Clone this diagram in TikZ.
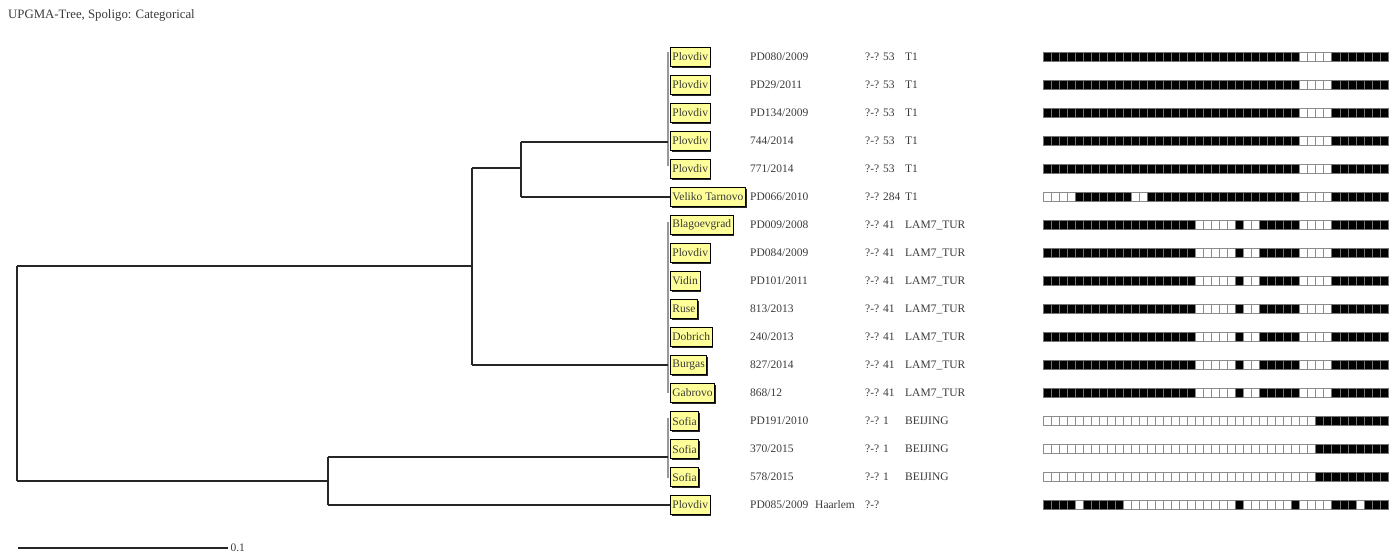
\documentclass[tikz,border=0pt]{standalone}
\usepackage{fontspec}
\setmainfont{Liberation Serif}
\usetikzlibrary{shadows}
\definecolor{cityfill}{HTML}{FFFF99}
\definecolor{txt}{HTML}{3A3A3A}
\def\patT{1/32/1,33/36/0,37/43/1}
\def\patU{1/4/0,5/11/1,12/13/0,14/32/1,33/36/0,37/43/1}
\def\patL{1/19/1,20/24/0,25/25/1,26/27/0,28/32/1,33/36/0,37/43/1}
\def\patB{1/34/0,35/43/1}
\def\patH{1/4/1,5/5/0,6/10/1,11/24/0,25/25/1,26/31/0,32/32/1,33/36/0,37/39/1,40/40/0,41/43/1}
\begin{document}
\begin{tikzpicture}[x=1pt,y=-1pt,
  every node/.style={font=\fontsize{11.5}{13}\selectfont, text=txt, inner sep=0pt},
  city/.style={draw=black, fill=cityfill, line width=0.7pt, inner xsep=2pt, minimum height=19pt, anchor=west,
    drop shadow={shadow xshift=1.3pt, shadow yshift=-1.3pt, fill=black!85, opacity=1}},
  lbl/.style={anchor=west},
  branch/.style={line width=1.2pt, draw=black!85},
  groupbar/.style={line width=1.6pt, draw=black!40},
  spo1/.style={fill=black, draw=black!55, line width=0.5pt},
  spo0/.style={fill=white, draw=black!45, line width=0.5pt}]
\useasboundingbox (0,0) rectangle (1399,555);

\node[lbl, font=\fontsize{12.8}{14}\selectfont] (title) at (8,15) {UPGMA-Tree, Spoligo: Categorical};

% group bars
\draw[groupbar] (668,52) -- (668,166);
\draw[groupbar] (668,222) -- (668,393);
\draw[groupbar] (668,418) -- (668,478);

% rows
\foreach \i/\city/\id/\sit/\typ/\pat in {
  0/Plovdiv/PD080\slash 2009/53/T1/T,
  1/Plovdiv/PD29\slash 2011/53/T1/T,
  2/Plovdiv/PD134\slash 2009/53/T1/T,
  3/Plovdiv/744\slash 2014/53/T1/T,
  4/Plovdiv/771\slash 2014/53/T1/T,
  5/Veliko Tarnovo/PD066\slash 2010/284/T1/U,
  6/Blagoevgrad/PD009\slash 2008/41/LAM7\_TUR/L,
  7/Plovdiv/PD084\slash 2009/41/LAM7\_TUR/L,
  8/Vidin/PD101\slash 2011/41/LAM7\_TUR/L,
  9/Ruse/813\slash 2013/41/LAM7\_TUR/L,
  10/Dobrich/240\slash 2013/41/LAM7\_TUR/L,
  11/Burgas/827\slash 2014/41/LAM7\_TUR/L,
  12/Gabrovo/868\slash 12/41/LAM7\_TUR/L,
  13/Sofia/PD191\slash 2010/1/BEIJING/B,
  14/Sofia/370\slash 2015/1/BEIJING/B,
  15/Sofia/578\slash 2015/1/BEIJING/B}{
  \pgfmathsetmacro\y{57+28*\i}
  \node[city] (c\i) at (670,\y) {\city};
  \node[lbl] (id\i) at (750,\y) {\id};
  \node[lbl] (q\i) at (865,\y) {?-?};
  \node[lbl] (s\i) at (883,\y) {\sit};
  \node[lbl] (t\i) at (905,\y) {\typ};
  \edef\curpat{\csname pat\pat\endcsname}
  \foreach \a/\b/\v in \curpat {
    \foreach \k in {\a,...,\b} {
      \draw[spo\v] ({1043+(\k-1)*8.02},\y-4.5) rectangle ++(8.02,9);
    }
  }
}
% last row
\node[city] (c16) at (670,505) {Plovdiv};
\node[lbl] (id16) at (750,505) {PD085/2009};
\node[lbl] (h16) at (815,505) {Haarlem};
\node[lbl] (q16) at (865,505) {?-?};
\foreach \a/\b/\v in \patH {
  \foreach \k in {\a,...,\b} {
    \draw[spo\v] ({1043+(\k-1)*8.02},500.5) rectangle ++(8.02,9);
  }
}

% tree
\coordinate (r1) at (17,266); \coordinate (r2) at (17,481);
\coordinate (a0) at (472,266); \coordinate (a1) at (472,168); \coordinate (a2) at (472,365);
\coordinate (b0) at (521,168); \coordinate (b1) at (521,142); \coordinate (b2) at (521,197);
\coordinate (d0) at (328,481); \coordinate (d1) at (328,457); \coordinate (d2) at (328,505);
\coordinate (gT) at (668,142); \coordinate (gL) at (668,365); \coordinate (gS) at (668,457);
\draw[branch] (r1) -- (r2);
\draw[branch] (r1) -- (a0);
\draw[branch] (a1) -- (a2);
\draw[branch] (a1) -- (b0);
\draw[branch] (b1) -- (b2);
\draw[branch] (b1) -- (gT);
\draw[branch] (b2) -- (c5.west);
\draw[branch] (a2) -- (gL);
\draw[branch] (r2) -- (d0);
\draw[branch] (d1) -- (d2);
\draw[branch] (d1) -- (gS);
\draw[branch] (d2) -- (c16.west);

% scale bar
\coordinate (sb1) at (18,548); \coordinate (sb2) at (228,548);
\draw[branch] (sb1) -- (sb2) node[lbl, right=2pt] (sbl) {0.1};
\end{tikzpicture}
\end{document}
